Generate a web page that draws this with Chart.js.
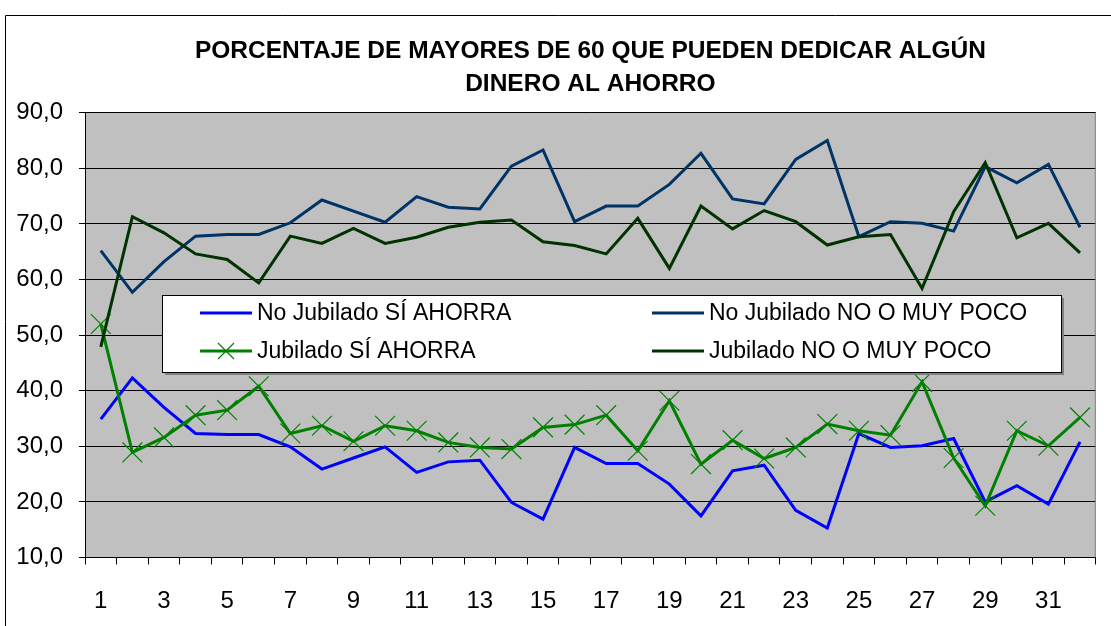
<!DOCTYPE html>
<html>
<head>
<meta charset="utf-8">
<script src="https://cdn.jsdelivr.net/npm/chart.js@4.4.0/dist/chart.umd.min.js"></script>
<style>
  html, body { margin: 0; padding: 0; background: #fff; }
  canvas { display: block; }
</style>
</head>
<body>
<canvas id="myChart" width="1111" height="626"></canvas>
<script>
// datos
const titleLines = ['PORCENTAJE DE MAYORES DE 60 QUE PUEDEN DEDICAR ALGÚN', 'DINERO AL AHORRO'];
const categories = ['1','2','3','4','5','6','7','8','9','10','11','12','13','14','15','16',
                    '17','18','19','20','21','22','23','24','25','26','27','28','29','30','31','32'];
const seriesNames = ['No Jubilado SÍ AHORRA', 'No Jubilado NO O MUY POCO', 'Jubilado SÍ AHORRA', 'Jubilado NO O MUY POCO'];

const noJubSi = [34.9, 42.3, 37.0, 32.3, 32.1, 32.1, 29.9, 25.9, 27.9, 29.9, 25.3, 27.2, 27.5, 19.9, 16.9, 29.8,
                 26.9, 26.9, 23.2, 17.5, 25.6, 26.6, 18.5, 15.3, 32.3, 29.8, 30.1, 31.4, 20.0, 22.9, 19.6, 30.8];
const noJubNo = [65.2, 57.7, 63.2, 67.8, 68.1, 68.1, 70.2, 74.3, 72.3, 70.3, 74.9, 73.0, 72.7, 80.4, 83.3, 70.4,
                 73.2, 73.2, 77.1, 82.7, 74.5, 73.6, 81.6, 85.0, 67.7, 70.4, 70.1, 68.7, 80.3, 77.4, 80.7, 69.4];
const jubSi   = [52.0, 28.9, 31.6, 35.6, 36.5, 40.8, 32.3, 33.7, 30.9, 33.7, 32.8, 30.7, 29.8, 29.5, 33.4, 33.9,
                 35.6, 29.2, 38.2, 26.8, 31.1, 27.8, 29.8, 34.0, 32.8, 32.0, 41.6, 27.9, 19.3, 32.8, 30.1, 35.2];
const jubNo   = [47.9, 71.3, 68.4, 64.6, 63.6, 59.4, 67.8, 66.5, 69.2, 66.5, 67.6, 69.4, 70.3, 70.7, 66.8, 66.1,
                 64.6, 71.0, 62.0, 73.2, 69.1, 72.4, 70.4, 66.2, 67.7, 68.1, 58.4, 72.2, 81.0, 67.5, 70.1, 64.8];

const yMin = 10, yMax = 90, yStep = 10;

const FONT = '"Liberation Sans", Arial, sans-serif';

// fondo, marco exterior y área gris
const bgPlugin = {
    id: 'bgPlugin',
    beforeDraw(chart) {
        const ctx = chart.ctx;
        const a = chart.chartArea;
        ctx.save();
        ctx.fillStyle = '#fff';
        ctx.fillRect(0, 0, chart.width, chart.height);
        ctx.strokeStyle = '#000';
        ctx.lineWidth = 1;
        ctx.beginPath();
        ctx.moveTo(5.5, chart.height + 5);
        ctx.lineTo(5.5, 15.5);
        ctx.lineTo(chart.width + 5, 15.5);
        ctx.stroke();
        ctx.fillStyle = '#c0c0c0';
        ctx.fillRect(a.left, a.top, a.right - a.left, a.bottom - a.top);
        ctx.restore();
    },
    afterDraw(chart) {
        const ctx = chart.ctx;
        const a = chart.chartArea;
        ctx.save();
        ctx.strokeStyle = '#808080';
        ctx.lineWidth = 1;
        ctx.beginPath();
        ctx.moveTo(a.right - 0.5, a.top);
        ctx.lineTo(a.right - 0.5, a.bottom);
        ctx.stroke();
        // título
        ctx.fillStyle = '#000';
        ctx.font = 'bold 24.5px ' + FONT;
        ctx.textAlign = 'center';
        ctx.textBaseline = 'middle';
        const cx = (a.left + a.right) / 2;
        titleLines.forEach((t, i) => ctx.fillText(t, cx, 51 + i * 33));
        ctx.restore();
    }
};

// leyenda dentro del área del gráfico
const legendBox = {
    id: 'legendBox',
    afterDatasetsDraw(chart) {
        const ctx = chart.ctx;
        const x0 = 162, y0 = 295, w = 899, h = 77;
        ctx.save();
        ctx.fillStyle = '#808080';
        ctx.fillRect(x0 + 3, y0 + 3, w, h);
        ctx.fillStyle = '#fff';
        ctx.fillRect(x0, y0, w, h);
        ctx.strokeStyle = '#000';
        ctx.lineWidth = 1;
        ctx.strokeRect(x0 + 0.5, y0 + 0.5, w, h);
        ctx.font = '23px ' + FONT;
        ctx.textBaseline = 'middle';
        ctx.textAlign = 'left';
        chart.data.datasets.forEach((ds, i) => {
            const col = i % 2, row = Math.floor(i / 2);
            const lx = col === 0 ? 200 : 652;
            const ly = row === 0 ? 313 : 351;
            ctx.strokeStyle = ds.borderColor;
            ctx.lineWidth = ds.borderWidth;
            ctx.beginPath();
            ctx.moveTo(lx, ly);
            ctx.lineTo(lx + 52, ly);
            ctx.stroke();
            if (ds.pointStyle === 'crossRot') {
                const d = 8;
                const mx = lx + 26;
                ctx.lineWidth = ds.pointBorderWidth;
                ctx.beginPath();
                ctx.moveTo(mx - d, ly - d);
                ctx.lineTo(mx + d, ly + d);
                ctx.moveTo(mx - d, ly + d);
                ctx.lineTo(mx + d, ly - d);
                ctx.stroke();
            }
            ctx.fillStyle = '#000';
            ctx.fillText(ds.label, lx + 57, ly + 1);
        });
        ctx.restore();
    }
};

const ctx = document.getElementById('myChart').getContext('2d');
const myChart = new Chart(ctx, {
    type: 'line',
    data: {
        labels: categories,
        datasets: [
            { label: seriesNames[0], data: noJubSi, borderColor: '#0000ff', borderWidth: 3, pointRadius: 0, order: 4 },
            { label: seriesNames[1], data: noJubNo, borderColor: '#003366', borderWidth: 3, pointRadius: 0, order: 3 },
            { label: seriesNames[2], data: jubSi, borderColor: '#008000', backgroundColor: '#008000', borderWidth: 3,
              pointStyle: 'crossRot', pointRadius: 14, pointBorderWidth: 1.2, pointBorderColor: '#008000', order: 2 },
            { label: seriesNames[3], data: jubNo, borderColor: '#003300', borderWidth: 3, pointRadius: 0, order: 1 }
        ]
    },
    options: {
        responsive: false,
        animation: false,
        devicePixelRatio: 1,
        layout: { padding: { left: 0, right: 7, top: 112.7, bottom: 0 } },
        elements: { line: { tension: 0 } },
        plugins: {
            legend: { display: false },
            title: { display: false },
            tooltip: { enabled: false }
        },
        scales: {
            x: {
                offset: true,
                grid: { offset: true, drawOnChartArea: false, drawTicks: true, tickLength: 7, color: '#000' },
                border: { color: '#000', width: 1 },
                ticks: {
                    autoSkip: false,
                    maxRotation: 0,
                    padding: 22,
                    color: '#000',
                    font: { family: FONT, size: 24 },
                    callback: function(v, i) { return i % 2 === 0 ? categories[i] : ''; }
                },
                afterFit(scale) { scale.height = 68.5; }
            },
            y: {
                min: yMin,
                max: yMax,
                grid: { color: '#000', tickLength: 6 },
                border: { color: '#000', width: 1 },
                ticks: {
                    stepSize: yStep,
                    padding: 16,
                    color: '#000',
                    font: { family: FONT, size: 24 },
                    callback: v => v.toFixed(1).replace('.', ',')
                },
                afterFit(scale) { scale.width = 85; }
            }
        }
    },
    plugins: [bgPlugin, legendBox]
});
</script>
</body>
</html>
